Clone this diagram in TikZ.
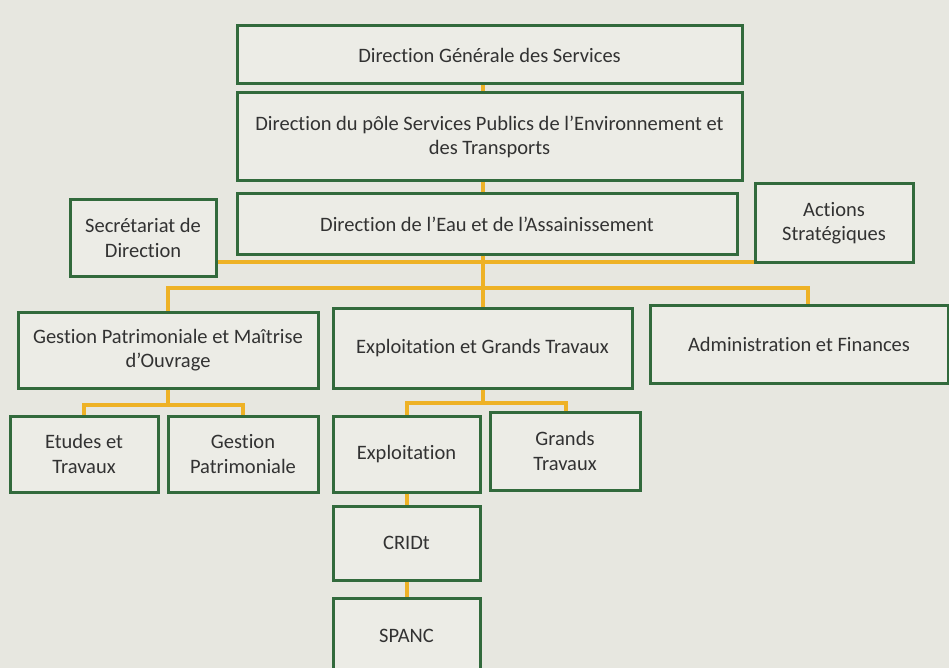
\documentclass[tikz,border=0pt]{standalone}
\usepackage{fontspec}
\setmainfont{Carlito}[Ligatures=NoCommon]
\begin{document}
\definecolor{paper}{RGB}{231,231,224}
\definecolor{boxfill}{RGB}{236,236,230}
\definecolor{frame}{RGB}{50,106,60}
\definecolor{link}{RGB}{238,178,38}
\definecolor{ink}{RGB}{50,50,50}
\begin{tikzpicture}[x=1pt,y=-1pt,
  box/.style={draw=frame, line width=3pt, fill=boxfill, text=ink,
    font=\fontsize{20.5}{24.5}\selectfont, align=center, inner sep=2pt},
  conn/.style={draw=link, line width=4pt}]
  \useasboundingbox (0,0) rectangle (949,668);
  \fill[paper] (0,0) rectangle (949,668);
  \clip (0,0) rectangle (949,668);

  % top chain
  \node[box, minimum width=505pt, minimum height=58pt] (dgs) at (489.5,55) {Direction Générale des Services};
  \node[box, minimum width=505pt, minimum height=88pt] (pole) at (489.5,137) {Direction du pôle Services Publics de l’Environnement et\\des Transports};
  \node[box, minimum width=500pt, minimum height=60pt] (dea) at (487,224) {Direction de l’Eau et de l’Assainissement};
  \node[box, minimum width=146pt, minimum height=76pt] (sec) at (143,238) {Secrétariat de\\Direction};
  \node[box, minimum width=158pt, minimum height=78pt] (act) at (834,223) {Actions\\Stratégiques};

  % departments
  \node[box, minimum width=300pt, minimum height=76pt] (gpmo) at (168,350) {Gestion Patrimoniale et Maîtrise\\d’Ouvrage};
  \node[box, minimum width=299pt, minimum height=80pt] (egt) at (482.5,348) {Exploitation et Grands Travaux};
  \node[box, minimum width=298pt, minimum height=78pt] (af) at (799,344) {Administration et Finances};

  % units
  \node[box, minimum width=148pt, minimum height=76pt] (etu) at (84,454) {Etudes et\\Travaux};
  \node[box, minimum width=150pt, minimum height=76pt] (gpa) at (243,454) {Gestion\\Patrimoniale};
  \node[box, minimum width=147pt, minimum height=76pt] (exp) at (406.5,454) {Exploitation};
  \node[box, minimum width=150pt, minimum height=78pt] (gt) at (565,451) {Grands\\Travaux};
  \node[box, minimum width=147pt, minimum height=74pt] (cri) at (406.5,543) {CRIDt};
  \node[box, minimum width=147pt, minimum height=76pt] (spa) at (406.5,636) {SPANC};

  % guide coordinates for the connector routes
  \coordinate (spine) at (483,0);
  \coordinate (staff) at (0,262);
  \coordinate (busL) at (168,288);
  \coordinate (busR) at (808,288);
  \coordinate (subL) at (0,405);
  \coordinate (subR) at (0,403);
  \coordinate (gtx) at (566,0);

  \draw[conn] (dgs.south -| spine) -- (pole.north -| spine);
  \draw[conn] (pole.south -| spine) -- (dea.north -| spine);
  \draw[conn] (dea.south -| spine) -- (egt.north -| spine);
  \draw[conn] (sec.east |- staff) -- (act.west |- staff);
  \draw[conn] (gpmo.north) -- (busL) -- (busR) -- (busR |- af.north);
  \draw[conn] (gpmo.south) -- (gpmo.south |- subL) -| (etu.north);
  \draw[conn] (gpmo.south |- subL) -| (gpa.north);
  \draw[conn] (egt.south -| spine) -- (spine |- subR) -| (exp.north);
  \draw[conn] (spine |- subR) -| (gtx |- gt.north);
  \draw[conn] (exp.south) -- (cri.north);
  \draw[conn] (cri.south) -- (spa.north);
\end{tikzpicture}
\end{document}
